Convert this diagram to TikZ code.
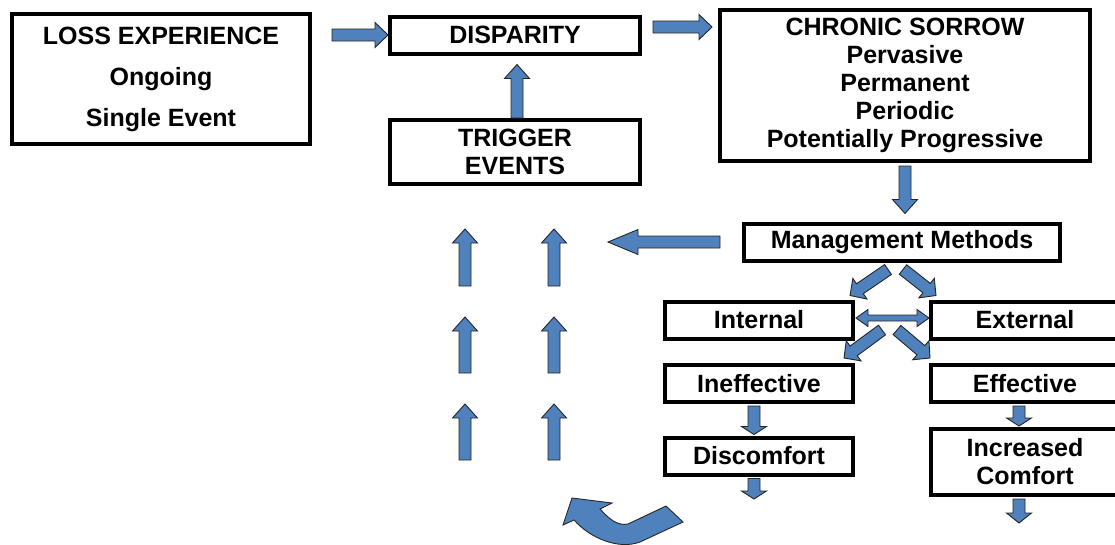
\documentclass[tikz,border=0pt]{standalone}
\usepackage{fontspec}
\setmainfont{Liberation Sans}
\usetikzlibrary{positioning,calc}
\definecolor{arrowBlue}{HTML}{4F81BD}

% fat arrow from #2 to #3, #1 = head length
\newcommand\blockarrow[3][14pt]{%
    \coordinate (ba-h) at ($(#3)!#1!(#2)$);
    \filldraw[block arrow] ($(#2)!6pt!90:(#3)$) -- ($(ba-h)!6pt!90:(#3)$) -- ($(ba-h)!12.5pt!90:(#3)$) -- (#3)
        -- ($(ba-h)!12.5pt!-90:(#3)$) -- ($(ba-h)!6pt!-90:(#3)$) -- ($(#2)!6pt!-90:(#3)$) -- cycle;
}
% fat arrow with a head on both ends
\newcommand\dblarrow[2]{%
    \coordinate (ba-h) at ($(#2)!12pt!(#1)$);
    \coordinate (ba-t) at ($(#1)!12pt!(#2)$);
    \filldraw[block arrow] (#1) -- ($(ba-t)!8.5pt!90:(#2)$) -- ($(ba-t)!3pt!90:(#2)$) -- ($(ba-h)!3pt!90:(#2)$)
        -- ($(ba-h)!8.5pt!90:(#2)$) -- (#2) -- ($(ba-h)!8.5pt!-90:(#2)$) -- ($(ba-h)!3pt!-90:(#2)$)
        -- ($(ba-t)!3pt!-90:(#2)$) -- ($(ba-t)!8.5pt!-90:(#2)$) -- cycle;
}

\begin{document}
\begin{tikzpicture}[
        x=1pt, y=-1pt,
        box/.style={draw=black, rectangle, align=center, line width=4pt, inner sep=0pt, font=\fontsize{25}{28}\selectfont\bfseries, minimum height=37pt}, % thick frame
        block arrow/.style={fill=arrowBlue, draw=black!85, line width=0.9pt, line join=miter} % blue fat arrows
    ]
    \useasboundingbox (0,0) rectangle (1115,544);

    \node[box, minimum width=298pt, minimum height=130pt] (loss) at (161,79) {LOSS EXPERIENCE\\[13pt]Ongoing\\[13pt]Single Event};
    \node[box, minimum width=250pt] (disparity) at (515,35) {DISPARITY};
    \node[box, minimum width=250pt, minimum height=64pt] (trigger) at (515,152) {TRIGGER\\EVENTS};
    \node[box, minimum width=370pt, minimum height=151pt] (sorrow) at (905,85.5) {CHRONIC SORROW\\Pervasive\\Permanent\\Periodic\\Potentially Progressive};
    \node[box, minimum width=316pt] (manage) at (902,242) {Management Methods};
    \node[box, minimum width=188pt] (internal) at (759,320) {Internal};
    \node[box, minimum width=188pt] (external) at (1025,320) {External};
    \node[box, minimum width=188pt] (ineffective) at (759,383.5) {Ineffective};
    \node[box, minimum width=188pt] (effective) at (1025,383.5) {Effective};
    \node[box, minimum width=188pt] (discomfort) at (759,456) {Discomfort};
    \node[box, minimum width=188pt, minimum height=66pt] (comfort) at (1025,462) {Increased\\Comfort};

    % top row
    \coordinate (loss-out) at ($(loss.east |- disparity.west)+(20,0)$);
    \blockarrow[13pt]{loss-out}{disparity.west}
    \coordinate (disp-out) at ($(disparity.east)+(11,-8)$);
    \coordinate (sorrow-in) at ($(sorrow.west |- disp-out)+(-6,0)$);
    \blockarrow[13pt]{disp-out}{sorrow-in}
    \coordinate (disp-in) at ($(disparity.south)+(2,9)$);
    \coordinate (trig-out) at (trigger.north -| disp-in);
    \blockarrow{trig-out}{disp-in}

    \coordinate (sorrow-out) at ($(sorrow.south)+(0,3)$);
    \coordinate (manage-in) at ($(sorrow.south |- manage.north)+(0,-8)$);
    \blockarrow{sorrow-out}{manage-in}
    \coordinate (manage-out) at ($(manage.west)+(-22,0)$);
    \coordinate (back-tip) at (608,242);
    \blockarrow[30pt]{manage-out}{back-tip}

    % rising arrows
    \foreach \col in {465,554}
        \foreach \row/\tip in {286/229, 373/317, 460/404} {
            \coordinate (up-a) at (\col,\row);
            \coordinate (up-b) at (\col,\tip);
            \blockarrow{up-a}{up-b}
        }

    % branches
    \coordinate (split-l) at ($(manage.south)+(-14,7)$);
    \coordinate (split-r) at ($(manage.south)+(1,7)$);
    \coordinate (internal-in) at ($(internal.north east)+(-5,-4)$);
    \coordinate (external-in) at ($(external.north west)+(7,-4)$);
    \blockarrow[12pt]{split-l}{internal-in}
    \blockarrow[12pt]{split-r}{external-in}
    \coordinate (internal-out) at ($(internal.east)+(1,-2)$);
    \coordinate (external-out) at ($(external.west)+(0,-2)$);
    \dblarrow{internal-out}{external-out}
    \coordinate (fork-l) at ($(internal.east)+(27,10)$);
    \coordinate (fork-r) at ($(internal.east)+(42,10)$);
    \coordinate (ineffective-in) at ($(ineffective.north east)+(-11,-5)$);
    \coordinate (effective-in) at ($(effective.north west)+(1,-5)$);
    \blockarrow[12pt]{fork-l}{ineffective-in}
    \blockarrow[12pt]{fork-r}{effective-in}

    % outcomes
    \coordinate (ineffective-out) at ($(ineffective.south)+(-5,2)$);
    \coordinate (discomfort-in) at ($(discomfort.north)+(-5,-1)$);
    \blockarrow[8pt]{ineffective-out}{discomfort-in}
    \coordinate (discomfort-out) at ($(discomfort.south)+(-5,2)$);
    \coordinate (discomfort-end) at (754,499);
    \blockarrow[8pt]{discomfort-out}{discomfort-end}
    \coordinate (effective-out) at ($(effective.south)+(-6,2)$);
    \coordinate (comfort-in) at ($(comfort.north)+(-6,-1)$);
    \blockarrow[8pt]{effective-out}{comfort-in}
    \coordinate (comfort-out) at ($(comfort.south)+(-6,2)$);
    \coordinate (comfort-end) at (1019,523);
    \blockarrow[10pt]{comfort-out}{comfort-end}

    % turning arrow
    \filldraw[block arrow] (666,506) -- (683,522) -- (640,542) .. controls (618,550) and (590,538) .. (574,520)
        -- (563,525) -- (572,498) -- (612,503) -- (600,509) .. controls (610,520) and (618,526) .. (628,524) -- cycle;
\end{tikzpicture}
\end{document}
